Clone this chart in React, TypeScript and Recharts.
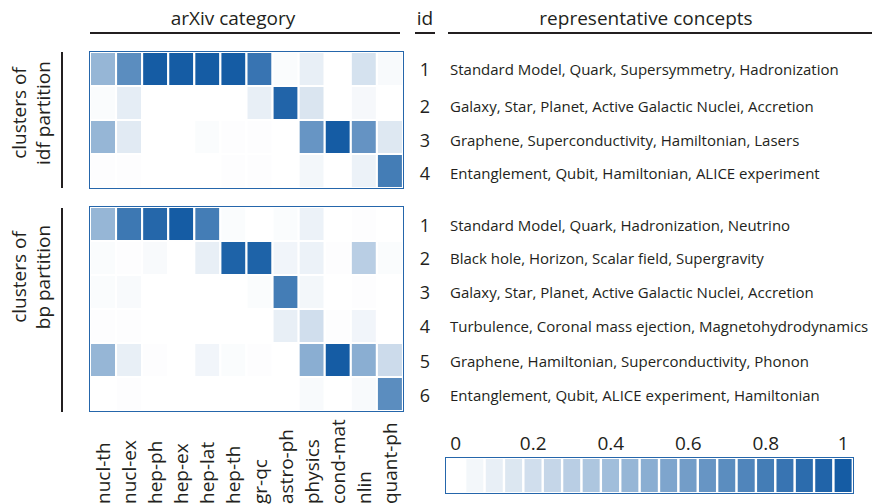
import React from "react";
import { BarChart, Bar, XAxis, YAxis, Cell } from "recharts";

// arXiv categories (columns of both heatmaps)
const categories = [
  "nucl-th",
  "nucl-ex",
  "hep-ph",
  "hep-ex",
  "hep-lat",
  "hep-th",
  "gr-qc",
  "astro-ph",
  "physics",
  "cond-mat",
  "nlin",
  "quant-ph",
];

// clusters of idf partition, one row per cluster
const idfRows = [
  [0.45, 0.7, 1.0, 1.0, 1.0, 1.0, 0.85, 0.02, 0.1, 0.0, 0.18, 0.03],
  [0.02, 0.11, 0.0, 0.0, 0.0, 0.0, 0.1, 0.95, 0.16, 0.0, 0.04, 0.0],
  [0.45, 0.13, 0.0, 0.0, 0.02, 0.01, 0.01, 0.0, 0.65, 1.0, 0.66, 0.14],
  [0.01, 0.01, 0.0, 0.0, 0.0, 0.01, 0.01, 0.0, 0.05, 0.0, 0.08, 0.8],
];

// clusters of bp partition
const bpRows = [
  [0.45, 0.83, 0.93, 1.0, 0.8, 0.02, 0.0, 0.02, 0.08, 0.0, 0.01, 0.0],
  [0.02, 0.01, 0.03, 0.0, 0.1, 0.96, 0.96, 0.06, 0.08, 0.01, 0.3, 0.02],
  [0.02, 0.03, 0.0, 0.0, 0.0, 0.0, 0.02, 0.8, 0.05, 0.0, 0.01, 0.0],
  [0.01, 0.01, 0.0, 0.0, 0.0, 0.0, 0.0, 0.1, 0.2, 0.01, 0.06, 0.0],
  [0.45, 0.1, 0.01, 0.0, 0.06, 0.02, 0.01, 0.0, 0.5, 1.0, 0.5, 0.22],
  [0.0, 0.01, 0.0, 0.0, 0.0, 0.0, 0.0, 0.0, 0.03, 0.0, 0.03, 0.7],
];

const idfConcepts = [
  "Standard Model, Quark, Supersymmetry, Hadronization",
  "Galaxy, Star, Planet, Active Galactic Nuclei, Accretion",
  "Graphene, Superconductivity, Hamiltonian, Lasers",
  "Entanglement, Qubit, Hamiltonian, ALICE experiment",
];

const bpConcepts = [
  "Standard Model, Quark, Hadronization, Neutrino",
  "Black hole, Horizon, Scalar field, Supergravity",
  "Galaxy, Star, Planet, Active Galactic Nuclei, Accretion",
  "Turbulence, Coronal mass ejection, Magnetohydrodynamics",
  "Graphene, Hamiltonian, Superconductivity, Phonon",
  "Entanglement, Qubit, ALICE experiment, Hamiltonian",
];

const colorbarLevels = [
  "0", "0.05", "0.1", "0.15", "0.2", "0.25", "0.3", "0.35", "0.4", "0.45", "0.5",
  "0.55", "0.6", "0.65", "0.7", "0.75", "0.8", "0.85", "0.9", "0.95", "1",
];

const FONT = "'Open Sans', sans-serif";
const INK = "#231f20";
const BORDER = "#2566ab";

function shade(v: number) {
  const r = Math.round(255 + (21 - 255) * v);
  const g = Math.round(255 + (92 - 255) * v);
  const b = Math.round(255 + (164 - 255) * v);
  return `rgb(${r},${g},${b})`;
}

function CategoryTick(props: any) {
  const { x, y, payload } = props;
  const by = y + 93;
  return (
    <text
      x={x}
      y={by}
      transform={`rotate(-90 ${x} ${by})`}
      textAnchor="start"
      dominantBaseline="central"
      fontSize={19}
      fontFamily={FONT}
      fill={INK}
    >
      {payload.value}
    </text>
  );
}

function Heatmap({
  rows,
  width,
  height,
  axisHeight,
}: {
  rows: number[][];
  width: number;
  height: number;
  axisHeight: number;
}) {
  const data = categories.map((cat) => {
    const d: any = { cat };
    rows.forEach((_, i) => (d[`r${i}`] = 1));
    return d;
  });
  // stack from the bottom row up, so cluster 1 ends on top
  const order = rows.map((_, i) => rows.length - 1 - i);
  return (
    <BarChart
      width={width}
      height={height}
      data={data}
      margin={{ top: 0, right: 0, bottom: 0, left: 0 }}
      barCategoryGap={0}
    >
      <XAxis
        dataKey="cat"
        hide={axisHeight === 0}
        height={axisHeight}
        axisLine={false}
        tickLine={false}
        tickSize={0}
        tickMargin={0}
        interval={0}
        tick={<CategoryTick />}
      />
      <YAxis hide type="number" domain={[0, rows.length]} />
      {order.map((i) => (
        <Bar key={i} dataKey={`r${i}`} stackId="a" isAnimationActive={false}>
          {categories.map((c, j) => (
            <Cell key={c} fill={shade(rows[i][j])} stroke="#fff" strokeWidth={2} />
          ))}
        </Bar>
      ))}
    </BarChart>
  );
}

function Colorbar() {
  const data = colorbarLevels.map((level) => ({ level, v: 1 }));
  return (
    <BarChart
      width={407}
      height={68}
      data={data}
      margin={{ top: 0, right: 0, bottom: 0, left: 0 }}
      barCategoryGap={0}
    >
      <XAxis
        dataKey="level"
        orientation="top"
        height={33}
        interval={3}
        axisLine={false}
        tickLine={false}
        tickSize={0}
        tickMargin={8}
        tick={{ fontSize: 19, fill: INK, fontFamily: FONT }}
      />
      <YAxis hide type="number" domain={[0, 1]} />
      <Bar dataKey="v" isAnimationActive={false}>
        {colorbarLevels.map((l) => (
          <Cell key={l} fill={shade(Number(l))} stroke="#fff" strokeWidth={2} />
        ))}
      </Bar>
    </BarChart>
  );
}

const abs = (left: number, top: number, extra: React.CSSProperties = {}): React.CSSProperties => ({
  position: "absolute",
  left,
  top,
  ...extra,
});

function Box({ left, top, width, height }: { left: number; top: number; width: number; height: number }) {
  return (
    <div
      style={abs(left, top, {
        width,
        height,
        border: `1.5px solid ${BORDER}`,
        boxSizing: "border-box",
        pointerEvents: "none",
      })}
    />
  );
}

function Rule({ left, top, width, height }: { left: number; top: number; width: number; height: number }) {
  return <div style={abs(left, top, { width, height, background: INK })} />;
}

function SideLabel({ cy, lines }: { cy: number; lines: string[] }) {
  return (
    <div
      style={abs(31 - 80, cy - 24, {
        width: 160,
        height: 48,
        lineHeight: "24px",
        fontSize: 19,
        textAlign: "center",
        transform: "rotate(-90deg)",
        color: INK,
      })}
    >
      {lines.map((l) => (
        <div key={l}>{l}</div>
      ))}
    </div>
  );
}

function ConceptRows({ ys, items }: { ys: number[]; items: string[] }) {
  return (
    <>
      {items.map((t, i) => (
        <React.Fragment key={i}>
          <div style={abs(415, ys[i] - 13, { width: 20, textAlign: "center", fontSize: 18, lineHeight: "26px", color: INK })}>
            {i + 1}
          </div>
          <div style={abs(450, ys[i] - 12, { fontSize: 15, lineHeight: "24px", whiteSpace: "nowrap", color: INK })}>
            {t}
          </div>
        </React.Fragment>
      ))}
    </>
  );
}

export default function App() {
  return (
    <div
      style={{
        position: "absolute",
        left: 0,
        top: 0,
        width: 872,
        height: 504,
        overflow: "hidden",
        background: "#fff",
        fontFamily: FONT,
      }}
    >
      {/* headers */}
      <div style={abs(90, 5, { width: 286, textAlign: "center", fontSize: 19, color: INK })}>arXiv category</div>
      <Rule left={90} top={32} width={310} height={2} />
      <div style={abs(415, 5, { width: 20, textAlign: "center", fontSize: 19, color: INK })}>id</div>
      <Rule left={415} top={32} width={20} height={2} />
      <div style={abs(448, 5, { width: 396, textAlign: "center", fontSize: 19, color: INK })}>
        representative concepts
      </div>
      <Rule left={448} top={32} width={424} height={2} />

      {/* left labels */}
      <Rule left={61} top={52} width={2} height={136} />
      <SideLabel cy={113} lines={["clusters of", "idf partition"]} />
      <Rule left={61} top={208} width={2} height={204} />
      <SideLabel cy={277} lines={["clusters of", "bp partition"]} />

      {/* heatmaps */}
      <div style={abs(90, 52)}>
        <Heatmap rows={idfRows} width={313} height={136} axisHeight={0} />
      </div>
      <Box left={89} top={51} width={315} height={138} />
      <div style={abs(90, 207)}>
        <Heatmap rows={bpRows} width={313} height={297} axisHeight={93} />
      </div>
      <Box left={89} top={206} width={315} height={206} />

      {/* concepts */}
      <ConceptRows ys={[69, 106, 140, 173]} items={idfConcepts} />
      <ConceptRows ys={[225, 258, 292, 326, 361, 395]} items={bpConcepts} />

      {/* colorbar */}
      <div style={abs(446, 425)}>
        <Colorbar />
      </div>
      <Box left={445} top={457} width={409} height={37} />
    </div>
  );
}
